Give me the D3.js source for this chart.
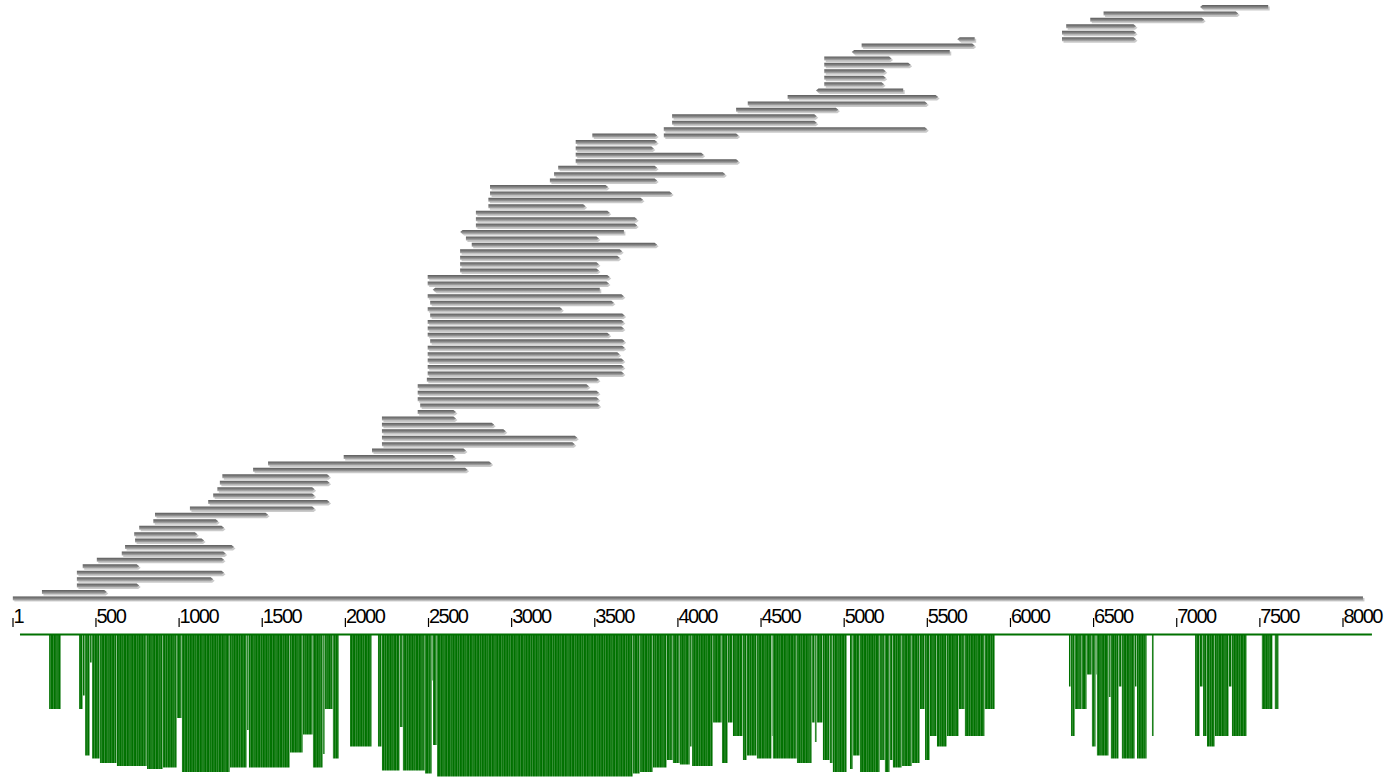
<!DOCTYPE html>
<html>
<head>
<meta charset="utf-8">
<script src="https://cdn.jsdelivr.net/npm/d3@7"></script>
<style>
  body { margin: 0; background: #fff; }
  text { font-family: "Liberation Sans", Arial, sans-serif; }
</style>
</head>
<body>
<svg id="chart" width="1389" height="778"></svg>
<script>
// Reference sequence length (bp) and ruler ticks
const referenceLength = 8120;
const tickValues = [1, 500, 1000, 1500, 2000, 2500, 3000, 3500, 4000, 4500, 5000, 5500, 6000, 6500, 7000, 7500, 8000];

// Aligned reads: packed row, start, end (bp) and strand
const readRow = [
  91, 90, 89, 88, 87, 86, 86, 85, 84, 83, 82, 81, 80, 79, 78, 77, 76, 75, 74, 73, 72, 71, 71,
  70, 69, 68, 67, 66, 65, 64, 63, 62, 61, 60, 59, 58, 57, 56, 55, 54, 53, 52, 51, 50,
  49, 48, 47, 46, 45, 44, 43, 42, 41, 40, 39, 38, 37, 36, 35, 34, 33, 32, 31, 30,
  29, 28, 27, 26, 25, 24, 23, 22, 21, 20, 19, 18, 17, 16, 15, 14, 13, 12, 11, 10,
  9, 8, 7, 6, 5, 4, 3, 2, 1, 0
];
const readStart = [
  7140, 6560, 6480, 6335, 6310, 6310, 5680, 5105, 5045, 4880, 4880, 4880, 4880, 4880, 4830, 4660, 4420, 4350, 3965, 3965, 3915, 3485, 3915,
  3385, 3385, 3385, 3385, 3280, 3255, 3230, 2870, 2870, 2860, 2860, 2785, 2785, 2785, 2690, 2725, 2760, 2690, 2690, 2690, 2690,
  2495, 2495, 2525, 2495, 2510, 2495, 2510, 2495, 2495, 2495, 2510, 2495, 2495, 2495, 2495, 2495, 2490, 2435, 2435, 2435,
  2450, 2435, 2220, 2220, 2220, 2220, 2220, 2160, 1990, 1535, 1445, 1260, 1245, 1230, 1205, 1175, 1065, 855, 845, 760,
  730, 735, 675, 655, 505, 420, 385, 385, 385, 175
];
const readEnd = [
  7550, 7370, 7165, 6755, 6755, 6755, 5785, 5785, 5635, 5285, 5400, 5250, 5250, 5240, 5355, 5565, 5500, 4965, 4835, 4835, 5500, 3875, 4365,
  3875, 3855, 4155, 4365, 3875, 4285, 3875, 3580, 3965, 3790, 3445, 3590, 3755, 3755, 3675, 3525, 3875, 3665, 3650, 3525, 3525,
  3590, 3585, 3530, 3675, 3615, 3305, 3680, 3675, 3675, 3590, 3680, 3680, 3650, 3675, 3675, 3675, 3525, 3465, 3525, 3525,
  3530, 2665, 2665, 2895, 2965, 3395, 3380, 2725, 2660, 2880, 2735, 1905, 1905, 1815, 1815, 1905, 1815, 1535, 1235, 1270,
  1110, 1150, 1330, 1280, 1270, 760, 1270, 1205, 760, 565
];
const readStrand = [
  "-", "+", "+", "+", "+", "+", "-", "+", "-", "+", "+", "+", "+", "+", "-", "+", "+", "+", "+", "+", "+", "+", "+",
  "+", "+", "+", "+", "+", "+", "+", "+", "+", "+", "+", "+", "+", "+", "-", "+", "+", "+", "+", "+", "+",
  "+", "+", "-", "+", "+", "+", "+", "+", "+", "+", "+", "+", "+", "+", "+", "+", "+", "+", "+", "+",
  "+", "+", "+", "+", "+", "+", "+", "+", "+", "+", "+", "+", "+", "+", "+", "+", "+", "+", "+", "+",
  "+", "+", "+", "+", "+", "+", "+", "+", "+", "+"
];

// Coverage track: runs of start, end (bp) and normalised depth score
const covStart = [
  218, 398, 422, 434, 464, 476, 524, 626, 807, 903, 987, 1017, 1306, 1408, 1420, 1667, 1745, 1805, 1865, 1877, 1925,
  2028, 2196, 2220, 2328, 2346, 2479, 2521, 2527, 2551, 3730, 3772, 3850, 3934, 3970, 4012, 4073, 4085, 4211, 4265, 4301,
  4331, 4391, 4415, 4475, 4565, 4571, 4716, 4806, 4824, 4836, 4872, 4914, 4932, 5035, 5053, 5095, 5215, 5245, 5275, 5293,
  5347, 5408, 5456, 5486, 5516, 5558, 5618, 5690, 5726, 5846,
  6352, 6364, 6388, 6430, 6460, 6490, 6514, 6520, 6592, 6604, 6652, 6670, 6749, 6761, 6851,
  7110, 7140, 7158, 7182, 7230, 7314, 7332, 7512, 7590
];
const covEnd = [
  290, 422, 434, 464, 476, 524, 626, 807, 903, 987, 1017, 1306, 1408, 1420, 1667, 1745, 1805, 1865, 1877, 1925, 1962,
  2160, 2220, 2328, 2346, 2479, 2521, 2527, 2551, 3730, 3772, 3850, 3934, 3970, 4012, 4073, 4085, 4211, 4265, 4301, 4331,
  4391, 4415, 4475, 4565, 4571, 4716, 4806, 4824, 4836, 4872, 4914, 4932, 5017, 5053, 5095, 5215, 5245, 5275, 5293, 5347,
  5408, 5456, 5486, 5516, 5558, 5618, 5690, 5726, 5846, 5907,
  6364, 6388, 6430, 6460, 6490, 6514, 6520, 6592, 6604, 6652, 6670, 6749, 6761, 6821, 6863,
  7140, 7158, 7182, 7230, 7314, 7332, 7422, 7578, 7614
];
const covScore = [
  0.50, 0.50, 0.41, 0.81, 0.19, 0.83, 0.86, 0.88, 0.90, 0.89, 0.56, 0.92, 0.89, 0.64, 0.89, 0.79, 0.67, 0.89, 0.80, 0.50, 0.83,
  0.75, 0.75, 0.91, 0.62, 0.91, 0.93, 0.31, 0.74, 0.95, 0.93, 0.92, 0.89, 0.84, 0.86, 0.87, 0.75, 0.88, 0.59, 0.86, 0.59,
  0.68, 0.84, 0.81, 0.83, 0.68, 0.83, 0.86, 0.59, 0.72, 0.59, 0.84, 0.86, 0.92, 0.90, 0.81, 0.92, 0.84, 0.92, 0.84, 0.89,
  0.88, 0.86, 0.50, 0.84, 0.68, 0.75, 0.68, 0.50, 0.68, 0.50,
  0.35, 0.68, 0.50, 0.50, 0.27, 0.75, 0.27, 0.81, 0.42, 0.83, 0.35, 0.83, 0.35, 0.83, 0.68,
  0.68, 0.35, 0.68, 0.75, 0.68, 0.35, 0.68, 0.50, 0.50
];

const svg = d3.select("#chart");
const defs = svg.append("defs");

const grad = defs.append("linearGradient")
  .attr("id", "readFill").attr("x1", 0).attr("y1", 0).attr("x2", 0).attr("y2", 1);
grad.append("stop").attr("offset", "0%").attr("stop-color", "#5c5c5c");
grad.append("stop").attr("offset", "55%").attr("stop-color", "#858585");
grad.append("stop").attr("offset", "100%").attr("stop-color", "#b4b4b4");

// Fine per-base column texture for the coverage bars
const stripe = defs.append("pattern")
  .attr("id", "covStripe").attr("patternUnits", "userSpaceOnUse")
  .attr("width", 7.3).attr("height", 10);
stripe.append("rect").attr("width", 7.3).attr("height", 10).attr("fill", "#007100");
[1.9, 4.6, 6.9].forEach(sx => stripe.append("rect")
  .attr("x", sx).attr("width", 0.4).attr("height", 10)
  .attr("fill", "#ffffff").attr("opacity", 0.5));

// Scales
const x = d3.scaleLinear().domain([1, 8000]).range([13, 1343]);
const rowY = d3.scaleLinear().domain([0, 91]).range([592, 7]);
const covY = d3.scaleLinear().domain([0, 1]).range([634, 784]);

const reads = readRow.map((r, i) => ({ row: r, start: readStart[i], end: readEnd[i], strand: readStrand[i] }));

function readPath(d, h) {
  const x1 = x(d.start), x2 = x(d.end), y = rowY(d.row);
  const t = 2.5;
  if (d.strand === "+") {
    return `M${x1},${y - h}L${x2 - t},${y - h}L${x2},${y}L${x2 - t},${y + h}L${x1},${y + h}Z`;
  }
  return `M${x1 + t},${y - h}L${x2},${y - h}L${x2},${y + h}L${x1 + t},${y + h}L${x1},${y}Z`;
}

// Read shadows, then bodies
const readLayer = svg.append("g");
readLayer.selectAll("path.shadow").data(reads).join("path")
  .attr("class", "shadow")
  .attr("transform", "translate(1.5,1.5)")
  .attr("d", d => readPath(d, 2))
  .attr("fill", "#cacaca");
readLayer.selectAll("path.read").data(reads).join("path")
  .attr("class", "read")
  .attr("d", d => readPath(d, 2))
  .attr("fill", "url(#readFill)");

// Reference sequence bar
const refY = rowY(-1);
svg.append("rect")
  .attr("x", x(0) + 1.5).attr("y", refY - 0.5)
  .attr("width", x(referenceLength) - x(0)).attr("height", 3.5)
  .attr("fill", "#c8c8c8");
svg.append("rect")
  .attr("x", x(0)).attr("y", refY - 2)
  .attr("width", x(referenceLength) - x(0)).attr("height", 4)
  .attr("fill", "url(#readFill)");

// Ruler
const ruler = svg.append("g");
ruler.selectAll("line").data(tickValues).join("line")
  .attr("x1", d => x(d)).attr("x2", d => x(d))
  .attr("y1", 618).attr("y2", 627)
  .attr("stroke", "#000").attr("stroke-width", 1.2);
ruler.selectAll("text").data(tickValues).join("text")
  .attr("x", d => x(d) + 0.5).attr("y", 623)
  .attr("font-size", 20)
  .attr("letter-spacing", "-1.5px")
  .attr("fill", "#000")
  .text(d => d);

// Coverage track
const cov = covStart.map((s, i) => ({ start: s, end: covEnd[i], score: covScore[i] }));
const covLayer = svg.append("g");
covLayer.selectAll("rect").data(cov).join("rect")
  .attr("x", d => x(d.start))
  .attr("y", covY(0))
  .attr("width", d => Math.max(0.6, x(d.end) - x(d.start) - 0.4))
  .attr("height", d => covY(d.score) - covY(0))
  .attr("fill", "url(#covStripe)");
covLayer.append("line")
  .attr("x1", x(43)).attr("x2", x(8174))
  .attr("y1", covY(0) + 0.5).attr("y2", covY(0) + 0.5)
  .attr("stroke", "#007100").attr("stroke-width", 2);
</script>
</body>
</html>
